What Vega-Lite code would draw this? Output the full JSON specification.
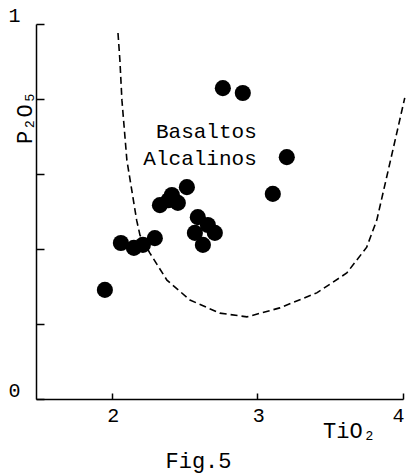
{
  "$schema": "https://vega.github.io/schema/vega-lite/v6.json",
  "width": 367,
  "height": 375,
  "autosize": "none",
  "padding": {"left": 36, "top": 24, "right": 6, "bottom": 75},
  "background": "white",
  "config": {
    "view": {"stroke": null},
    "font": "Liberation Mono",
    "axis": {"grid": false, "domainColor": "black", "domainWidth": 1.5, "tickColor": "black", "tickWidth": 1.5, "labelColor": "black", "titleColor": "black", "labelFont": "Liberation Mono", "titleFont": "Liberation Mono", "labelFontWeight": "normal", "titleFontWeight": "normal"}
  },
  "title": {"text": "Fig.5", "orient": "bottom", "anchor": "middle", "dx": -21, "offset": 10, "font": "Liberation Mono", "fontSize": 22, "fontWeight": "normal", "color": "black"},
  "datasets": {
    "samples": [
      {"TiO2": 1.953, "P2O5": 0.291},
      {"TiO2": 2.063, "P2O5": 0.416},
      {"TiO2": 2.152, "P2O5": 0.403},
      {"TiO2": 2.214, "P2O5": 0.411},
      {"TiO2": 2.296, "P2O5": 0.429},
      {"TiO2": 2.331, "P2O5": 0.517},
      {"TiO2": 2.413, "P2O5": 0.544},
      {"TiO2": 2.516, "P2O5": 0.565},
      {"TiO2": 2.454, "P2O5": 0.523},
      {"TiO2": 2.39, "P2O5": 0.53},
      {"TiO2": 2.591, "P2O5": 0.485},
      {"TiO2": 2.571, "P2O5": 0.443},
      {"TiO2": 2.626, "P2O5": 0.411},
      {"TiO2": 2.708, "P2O5": 0.443},
      {"TiO2": 2.66, "P2O5": 0.464},
      {"TiO2": 2.763, "P2O5": 0.829},
      {"TiO2": 2.9, "P2O5": 0.816},
      {"TiO2": 3.202, "P2O5": 0.645},
      {"TiO2": 3.106, "P2O5": 0.547}
    ],
    "boundary": [
      {"order": 1, "TiO2": 2.043, "P2O5": 0.976},
      {"order": 2, "TiO2": 2.056, "P2O5": 0.904},
      {"order": 3, "TiO2": 2.07, "P2O5": 0.797},
      {"order": 4, "TiO2": 2.104, "P2O5": 0.637},
      {"order": 5, "TiO2": 2.171, "P2O5": 0.477},
      {"order": 6, "TiO2": 2.194, "P2O5": 0.437},
      {"order": 7, "TiO2": 2.262, "P2O5": 0.389},
      {"order": 8, "TiO2": 2.379, "P2O5": 0.317},
      {"order": 9, "TiO2": 2.537, "P2O5": 0.264},
      {"order": 10, "TiO2": 2.742, "P2O5": 0.229},
      {"order": 11, "TiO2": 2.928, "P2O5": 0.219},
      {"order": 12, "TiO2": 3.154, "P2O5": 0.243},
      {"order": 13, "TiO2": 3.408, "P2O5": 0.283},
      {"order": 14, "TiO2": 3.614, "P2O5": 0.336},
      {"order": 15, "TiO2": 3.751, "P2O5": 0.405},
      {"order": 16, "TiO2": 3.82, "P2O5": 0.477},
      {"order": 17, "TiO2": 3.888, "P2O5": 0.592},
      {"order": 18, "TiO2": 3.957, "P2O5": 0.709},
      {"order": 19, "TiO2": 4.012, "P2O5": 0.803}
    ],
    "labels": [
      {"label": "Basaltos", "TiO2": 2.996, "P2O5": 0.696},
      {"label": "Alcalinos", "TiO2": 2.996, "P2O5": 0.624}
    ]
  },
  "encoding": {
    "x": {
      "field": "TiO2", "type": "quantitative",
      "scale": {"domain": [1.48, 4], "nice": false, "zero": false},
      "axis": {
        "values": [2, 3, 4], "tickSize": -6, "labelFontSize": 20, "labelPadding": 12, "labelOffset": 1,
        "title": "TiO₂", "titleFontSize": 22, "titleX": 313, "titleY": 38, "titleAlign": "center", "titleBaseline": "alphabetic"
      }
    },
    "y": {
      "field": "P2O5", "type": "quantitative",
      "scale": {"domain": [0, 1], "nice": false},
      "axis": {
        "values": [0, 0.2, 0.4, 0.6, 0.8, 1], "tickSize": -8,
        "labelExpr": "datum.value == 1 ? '1' : (datum.value == 0 ? '0' : '')",
        "labelFontSize": 20, "labelPadding": 24, "labelOffset": -9,
        "title": "P₂O₅", "titleFontSize": 22, "titleAngle": 270, "titleX": -5, "titleY": 93, "titleAlign": "center", "titleBaseline": "alphabetic"
      }
    }
  },
  "layer": [
    {
      "data": {"name": "boundary"},
      "mark": {"type": "line", "color": "black", "strokeWidth": 1.6, "strokeDash": [7, 4], "clip": false},
      "encoding": {"order": {"field": "order", "type": "quantitative"}}
    },
    {
      "data": {"name": "samples"},
      "mark": {"type": "circle", "color": "black", "opacity": 1, "size": 260}
    },
    {
      "data": {"name": "labels"},
      "mark": {"type": "text", "align": "right", "baseline": "alphabetic", "font": "Liberation Mono", "fontSize": 21, "color": "black"},
      "encoding": {"text": {"field": "label", "type": "nominal"}}
    }
  ]
}
